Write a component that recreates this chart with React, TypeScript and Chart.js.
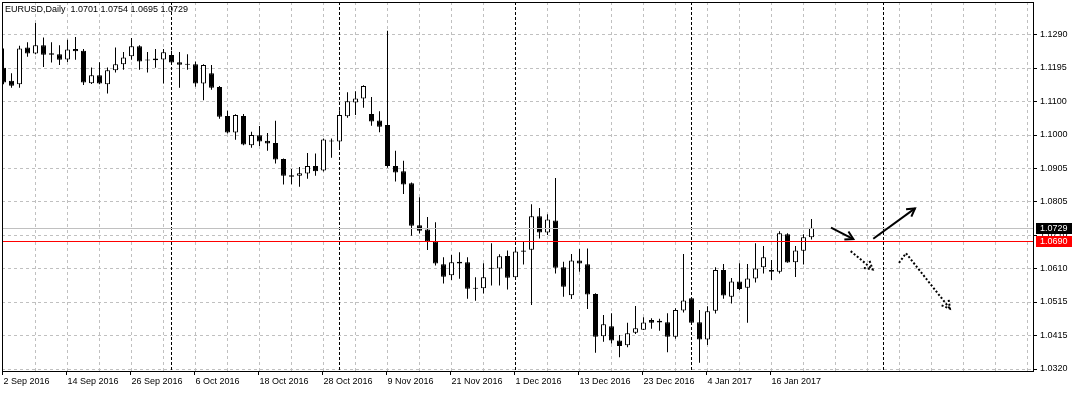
import React, { useEffect, useRef } from "react";
import { Chart, registerables } from "chart.js";

Chart.register(...registerables);

const symbolName = "EURUSD";
const timeframeName = "Daily";

const dates = [
  "2016-09-02", "2016-09-05", "2016-09-06", "2016-09-07", "2016-09-08", "2016-09-09", "2016-09-12", "2016-09-13",
  "2016-09-14", "2016-09-15", "2016-09-16", "2016-09-19", "2016-09-20", "2016-09-21", "2016-09-22", "2016-09-23",
  "2016-09-26", "2016-09-27", "2016-09-28", "2016-09-29", "2016-09-30",
  "2016-10-03", "2016-10-04", "2016-10-05", "2016-10-06", "2016-10-07", "2016-10-10", "2016-10-11", "2016-10-12",
  "2016-10-13", "2016-10-14", "2016-10-17", "2016-10-18", "2016-10-19", "2016-10-20", "2016-10-21", "2016-10-24",
  "2016-10-25", "2016-10-26", "2016-10-27", "2016-10-28", "2016-10-31",
  "2016-11-01", "2016-11-02", "2016-11-03", "2016-11-04", "2016-11-07", "2016-11-08", "2016-11-09", "2016-11-10",
  "2016-11-11", "2016-11-14", "2016-11-15", "2016-11-16", "2016-11-17", "2016-11-18", "2016-11-21", "2016-11-22",
  "2016-11-23", "2016-11-24", "2016-11-25", "2016-11-28", "2016-11-29", "2016-11-30",
  "2016-12-01", "2016-12-02", "2016-12-05", "2016-12-06", "2016-12-07", "2016-12-08", "2016-12-09", "2016-12-12",
  "2016-12-13", "2016-12-14", "2016-12-15", "2016-12-16", "2016-12-19", "2016-12-20", "2016-12-21", "2016-12-22",
  "2016-12-23", "2016-12-26", "2016-12-27", "2016-12-28", "2016-12-29", "2016-12-30",
  "2017-01-02", "2017-01-03", "2017-01-04", "2017-01-05", "2017-01-06", "2017-01-09", "2017-01-10", "2017-01-11",
  "2017-01-12", "2017-01-13", "2017-01-16", "2017-01-17", "2017-01-18", "2017-01-19", "2017-01-20", "2017-01-23",
];

const openPrices = [
  1.1193, 1.1155, 1.1145, 1.1252, 1.1234, 1.1258, 1.1235, 1.1232, 1.1217, 1.1247,
  1.1242, 1.1148, 1.1171, 1.1145, 1.1186, 1.1203, 1.1226, 1.1255, 1.1216, 1.1215,
  1.1217, 1.1230, 1.1209, 1.1204, 1.1203, 1.1147, 1.1177, 1.1137, 1.1053, 1.1005,
  1.1053, 1.0968, 1.0997, 1.0981, 1.0975, 1.0928, 1.0881, 1.0880, 1.0886, 1.0908,
  1.0895, 1.0982, 1.0979, 1.1052, 1.1092, 1.1104, 1.1059, 1.1040, 1.1027, 1.0908,
  1.0893, 1.0858, 1.0736, 1.0724, 1.0689, 1.0623, 1.0591, 1.0630, 1.0629, 1.0554,
  1.0553, 1.0610, 1.0611, 1.0647, 1.0585, 1.0663, 1.0665, 1.0762, 1.0715, 1.0750,
  1.0614, 1.0533, 1.0634, 1.0623, 1.0537, 1.0414, 1.0443, 1.0402, 1.0388, 1.0424,
  1.0433, 1.0461, 1.0459, 1.0455, 1.0413, 1.0489, 1.0524, 1.0455, 1.0405, 1.0488,
  1.0606, 1.0529, 1.0573, 1.0555, 1.0582, 1.0614, 1.0606, 1.0601, 1.0710, 1.0629,
  1.0662, 1.0701,
];
const highPrices = [
  1.1249, 1.1177, 1.1257, 1.1267, 1.1323, 1.1281, 1.1267, 1.1258, 1.1274, 1.1282,
  1.1247, 1.1194, 1.1209, 1.1194, 1.1252, 1.1239, 1.1279, 1.1258, 1.1239, 1.1247,
  1.1247, 1.1242, 1.1239, 1.1232, 1.1211, 1.1203, 1.1201, 1.1140, 1.1068, 1.1058,
  1.1059, 1.1007, 1.1024, 1.1004, 1.1039, 1.0930, 1.0899, 1.0905, 1.0946, 1.0944,
  1.0988, 1.0988, 1.1070, 1.1122, 1.1125, 1.1142, 1.1108, 1.1067, 1.1300, 1.0952,
  1.0923, 1.0860, 1.0817, 1.0760, 1.0745, 1.0643, 1.0650, 1.0658, 1.0643, 1.0585,
  1.0626, 1.0684, 1.0652, 1.0663, 1.0664, 1.0689, 1.0797, 1.0786, 1.0768, 1.0873,
  1.0630, 1.0653, 1.0667, 1.0669, 1.0539, 1.0476, 1.0481, 1.0418, 1.0453, 1.0502,
  1.0469, 1.0466, 1.0465, 1.0481, 1.0495, 1.0653, 1.0526, 1.0490, 1.0501, 1.0614,
  1.0624, 1.0583, 1.0626, 1.0624, 1.0684, 1.0676, 1.0635, 1.0719, 1.0713, 1.0676,
  1.0710, 1.0754,
];
const lowPrices = [
  1.1145, 1.1135, 1.1135, 1.1225, 1.1232, 1.1195, 1.1208, 1.1201, 1.1210, 1.1216,
  1.1143, 1.1146, 1.1145, 1.1118, 1.1179, 1.1187, 1.1216, 1.1187, 1.1179, 1.1193,
  1.1147, 1.1201, 1.1135, 1.1187, 1.1138, 1.1099, 1.1129, 1.1045, 1.1002, 1.0984,
  1.0968, 1.0961, 1.0966, 1.0952, 1.0915, 1.0854, 1.0855, 1.0848, 1.0871, 1.0880,
  1.0892, 1.0932, 1.0959, 1.1048, 1.1056, 1.1077, 1.1025, 1.1006, 1.0903, 1.0863,
  1.0827, 1.0706, 1.0712, 1.0664, 1.0619, 1.0567, 1.0577, 1.0581, 1.0523, 1.0517,
  1.0538, 1.0561, 1.0561, 1.0550, 1.0583, 1.0622, 1.0505, 1.0698, 1.0708, 1.0596,
  1.0529, 1.0522, 1.0601, 1.0493, 1.0366, 1.0398, 1.0393, 1.0353, 1.0382, 1.0421,
  1.0432, 1.0436, 1.0430, 1.0368, 1.0407, 1.0483, 1.0452, 1.0337, 1.0389, 1.0480,
  1.0523, 1.0509, 1.0548, 1.0453, 1.0570, 1.0596, 1.0577, 1.0596, 1.0627, 1.0586,
  1.0622, 1.0695,
];
const closePrices = [
  1.1150, 1.1141, 1.1249, 1.1234, 1.1258, 1.1231, 1.1231, 1.1216, 1.1246, 1.1241,
  1.1150, 1.1171, 1.1147, 1.1186, 1.1203, 1.1223, 1.1255, 1.1211, 1.1214, 1.1220,
  1.1238, 1.1208, 1.1202, 1.1202, 1.1147, 1.1201, 1.1135, 1.1051, 1.1005, 1.1056,
  1.0970, 1.0998, 1.0979, 1.0973, 1.0927, 1.0880, 1.0877, 1.0887, 1.0908, 1.0893,
  1.0985, 1.0979, 1.1056, 1.1096, 1.1104, 1.1140, 1.1037, 1.1022, 1.0908, 1.0889,
  1.0854, 1.0735, 1.0720, 1.0689, 1.0625, 1.0587, 1.0629, 1.0625, 1.0552, 1.0552,
  1.0585, 1.0612, 1.0646, 1.0584, 1.0660, 1.0659, 1.0762, 1.0715, 1.0753, 1.0613,
  1.0558, 1.0634, 1.0625, 1.0535, 1.0413, 1.0449, 1.0402, 1.0386, 1.0423, 1.0437,
  1.0454, 1.0453, 1.0454, 1.0413, 1.0490, 1.0518, 1.0453, 1.0405, 1.0487, 1.0606,
  1.0532, 1.0573, 1.0551, 1.0582, 1.0611, 1.0643, 1.0601, 1.0713, 1.0628, 1.0663,
  1.0701, 1.0729,
];

const xTickLabels = [
  "2 Sep 2016", "14 Sep 2016", "26 Sep 2016", "6 Oct 2016", "18 Oct 2016", "28 Oct 2016", "9 Nov 2016",
  "21 Nov 2016", "1 Dec 2016", "13 Dec 2016", "23 Dec 2016", "4 Jan 2017", "16 Jan 2017",
];
const xTickDates = [
  "2016-09-02", "2016-09-14", "2016-09-26", "2016-10-06", "2016-10-18", "2016-10-28", "2016-11-09",
  "2016-11-21", "2016-12-01", "2016-12-13", "2016-12-23", "2017-01-04", "2017-01-16",
];

const yTickValues = [1.129, 1.1193, 1.1096, 1.0999, 1.0902, 1.0805, 1.0708, 1.0611, 1.0514, 1.0417, 1.032];
const yTickLabels = ["1.1290", "1.1195", "1.1100", "1.1000", "1.0905", "1.0805", "1.0710", "1.0610", "1.0515", "1.0415", "1.0320"];

// month separators (bar index; the last one lies in the empty future area)
const separatorIndices = [21, 42, 64, 86, 110];
const gridEveryBars = 4;

const levelLinePrice = 1.069;

// hand-drawn arrows: [bar index, price]
const solidArrows = [
  [[103.44, 1.0729], [106.23, 1.0696]],
  [[108.72, 1.0697], [113.94, 1.0785]],
];
const dottedArrows = [
  [[105.9, 1.0661], [108.65, 1.0608]],
  [[111.94, 1.0627], [112.81, 1.0655], [118.31, 1.0494]],
];

const X_MIN = -0.1875;
const X_MAX = 128.8125;
const Y_MIN = 1.031042;
const Y_MAX = 1.138369;

const FONT_FAMILY = '"Liberation Sans", Arial, sans-serif';

function drawArrow(ctx: CanvasRenderingContext2D, pts: number[][], dotted: boolean) {
  ctx.save();
  ctx.strokeStyle = "#000";
  ctx.lineWidth = 2;
  ctx.lineCap = "butt";
  ctx.setLineDash(dotted ? [2, 2] : []);
  ctx.beginPath();
  pts.forEach((p, k) => (k ? ctx.lineTo(p[0], p[1]) : ctx.moveTo(p[0], p[1])));
  ctx.stroke();
  const [x1, y1] = pts[pts.length - 2];
  const [x2, y2] = pts[pts.length - 1];
  const ang = Math.atan2(y2 - y1, x2 - x1);
  const L = 9;
  const spread = Math.PI / 6;
  ctx.beginPath();
  ctx.moveTo(x2 - L * Math.cos(ang - spread), y2 - L * Math.sin(ang - spread));
  ctx.lineTo(x2, y2);
  ctx.lineTo(x2 - L * Math.cos(ang + spread), y2 - L * Math.sin(ang + spread));
  ctx.stroke();
  ctx.restore();
}

const mt4Plugin = {
  id: "mt4",
  beforeDatasetsDraw(chart: any) {
    const { ctx, chartArea: a, scales } = chart;
    const x = scales.x;
    const y = scales.y;
    ctx.save();
    ctx.beginPath();
    ctx.rect(a.left, a.top, a.right - a.left, a.bottom - a.top);
    ctx.clip();
    ctx.lineWidth = 1;
    ctx.strokeStyle = "#c0c0c0";
    ctx.setLineDash([3, 3]);
    yTickValues.forEach((v) => {
      const py = Math.round(y.getPixelForValue(v)) + 0.5;
      ctx.beginPath();
      ctx.moveTo(a.left, py);
      ctx.lineTo(a.right, py);
      ctx.stroke();
    });
    for (let i = gridEveryBars; i <= x.max; i += gridEveryBars) {
      if (separatorIndices.includes(i)) continue;
      const px = Math.floor(x.getPixelForValue(i)) + 0.5;
      ctx.beginPath();
      ctx.moveTo(px, a.top);
      ctx.lineTo(px, a.bottom);
      ctx.stroke();
    }
    ctx.strokeStyle = "#000";
    ctx.setLineDash([3, 2]);
    separatorIndices.forEach((i) => {
      const px = Math.floor(x.getPixelForValue(i)) + 0.5;
      ctx.beginPath();
      ctx.moveTo(px, a.top);
      ctx.lineTo(px, a.bottom);
      ctx.stroke();
    });
    ctx.restore();
  },
  afterDatasetsDraw(chart: any) {
    const { ctx, chartArea: a, scales } = chart;
    const x = scales.x;
    const y = scales.y;
    const lastClose = closePrices[closePrices.length - 1];
    ctx.save();
    // bid line and level line
    ctx.lineWidth = 1;
    ctx.setLineDash([]);
    const bidY = Math.round(y.getPixelForValue(lastClose)) + 0.5;
    ctx.strokeStyle = "#c0c0c0";
    ctx.beginPath();
    ctx.moveTo(a.left, bidY);
    ctx.lineTo(a.right, bidY);
    ctx.stroke();
    const lvlY = Math.round(y.getPixelForValue(levelLinePrice)) + 0.5;
    ctx.strokeStyle = "#ff0000";
    ctx.beginPath();
    ctx.moveTo(a.left, lvlY);
    ctx.lineTo(a.right, lvlY);
    ctx.stroke();

    // arrows
    solidArrows.forEach((arr) =>
      drawArrow(ctx, arr.map((p) => [x.getPixelForValue(p[0]), y.getPixelForValue(p[1])]), false)
    );
    dottedArrows.forEach((arr) =>
      drawArrow(ctx, arr.map((p) => [x.getPixelForValue(p[0]), y.getPixelForValue(p[1])]), true)
    );

    // frame
    ctx.setLineDash([]);
    ctx.lineWidth = 1;
    ctx.strokeStyle = "#000";
    ctx.strokeRect(a.left + 0.5, a.top + 0.5, a.right - a.left - 1, a.bottom - a.top - 1);

    // y tick marks
    yTickValues.forEach((v) => {
      const py = Math.round(y.getPixelForValue(v)) + 0.5;
      ctx.beginPath();
      ctx.moveTo(a.right, py);
      ctx.lineTo(a.right + 3, py);
      ctx.stroke();
    });
    // x tick marks
    xTickDates.forEach((d) => {
      const i = dates.indexOf(d);
      const px = Math.floor(x.getPixelForValue(i)) - 0.5;
      ctx.beginPath();
      ctx.moveTo(px, a.bottom);
      ctx.lineTo(px, a.bottom + 3);
      ctx.stroke();
    });

    // price labels
    ctx.font = `9px ${FONT_FAMILY}`;
    ctx.textBaseline = "middle";
    ctx.textAlign = "left";
    const drawTag = (price: number, bg: string) => {
      const py = Math.round(y.getPixelForValue(price));
      ctx.fillStyle = bg;
      ctx.fillRect(a.right + 2, py - 5, 36, 11);
      ctx.fillStyle = "#ffffff";
      ctx.fillText(price.toFixed(4), a.right + 6, py + 0.5);
    };
    drawTag(lastClose, "#000000");
    drawTag(levelLinePrice, "#ff0000");

    // title
    const n = closePrices.length - 1;
    const title = `${symbolName},${timeframeName}  ${openPrices[n].toFixed(4)} ${highPrices[n].toFixed(4)} ${lowPrices[n].toFixed(4)} ${closePrices[n].toFixed(4)}`;
    ctx.fillStyle = "#000";
    ctx.fillText(title, a.left + 3, a.top + 8);
    ctx.restore();
  },
};

export default function App() {
  const ref = useRef<HTMLCanvasElement>(null);
  useEffect(() => {
    const canvas = ref.current;
    if (!canvas) return;
    const idx = dates.map((_, i) => i);
    const isUp = idx.map((i) => closePrices[i] >= openPrices[i]);
    const chart = new Chart(canvas, {
      type: "bar",
      data: {
        datasets: [
          {
            label: "body",
            data: idx.map((i) => ({ x: i, y: [openPrices[i], closePrices[i]] })) as any,
            backgroundColor: isUp.map((u) => (u ? "#ffffff" : "#000000")),
            borderColor: "#000000",
            borderWidth: 1,
            borderSkipped: false,
            barThickness: 5,
            maxBarThickness: 5,
            minBarLength: 1,
            grouped: false,
            inflateAmount: 0,
            order: 1,
          } as any,
          {
            label: "wick",
            data: idx.map((i) => ({ x: i, y: [lowPrices[i], highPrices[i]] })) as any,
            backgroundColor: "#000000",
            borderWidth: 0,
            barThickness: 1,
            maxBarThickness: 1,
            minBarLength: 1,
            grouped: false,
            inflateAmount: 0,
            order: 2,
          } as any,
        ],
      },
      options: {
        animation: false,
        responsive: false,
        maintainAspectRatio: false,
        layout: { padding: { left: 2, top: 2, right: 0, bottom: 0 } },
        plugins: { legend: { display: false }, tooltip: { enabled: false }, title: { display: false } },
        events: [],
        scales: {
          x: {
            type: "linear",
            min: X_MIN,
            max: X_MAX,
            offset: false,
            grid: { display: false, drawTicks: false },
            border: { display: false },
            ticks: {
              autoSkip: false,
              maxRotation: 0,
              minRotation: 0,
              align: "start",
              padding: 4,
              color: "#000",
              font: { family: FONT_FAMILY, size: 9 },
              callback: (v: any) => {
                const k = xTickDates.indexOf(dates[Math.round(Number(v))]);
                return k >= 0 ? xTickLabels[k] : "";
              },
            },
            afterBuildTicks: (s: any) => {
              s.ticks = xTickDates.map((d) => ({ value: dates.indexOf(d) }));
            },
            afterFit: (s: any) => {
              s.height = 21;
              s.paddingLeft = 0;
              s.paddingRight = 0;
            },
          } as any,
          y: {
            type: "linear",
            position: "right",
            min: Y_MIN,
            max: Y_MAX,
            beginAtZero: false,
            stacked: false,
            grid: { display: false, drawTicks: false },
            border: { display: false },
            ticks: {
              autoSkip: false,
              padding: 6,
              color: "#000",
              font: { family: FONT_FAMILY, size: 9 },
              callback: (v: any) => {
                const k = yTickValues.findIndex((t) => Math.abs(t - Number(v)) < 1e-7);
                return k >= 0 ? yTickLabels[k] : "";
              },
            },
            afterBuildTicks: (s: any) => {
              s.ticks = yTickValues.map((v) => ({ value: v }));
            },
            afterFit: (s: any) => {
              s.width = 40;
              s.paddingTop = 0;
              s.paddingBottom = 0;
            },
          } as any,
        },
      },
      plugins: [mt4Plugin],
    });
    return () => chart.destroy();
  }, []);
  return (
    <div style={{ position: "fixed", left: 0, top: 0, width: 1074, height: 393, background: "#ffffff" }}>
      <canvas ref={ref} width={1074} height={393} style={{ display: "block", width: 1074, height: 393 }} />
    </div>
  );
}
